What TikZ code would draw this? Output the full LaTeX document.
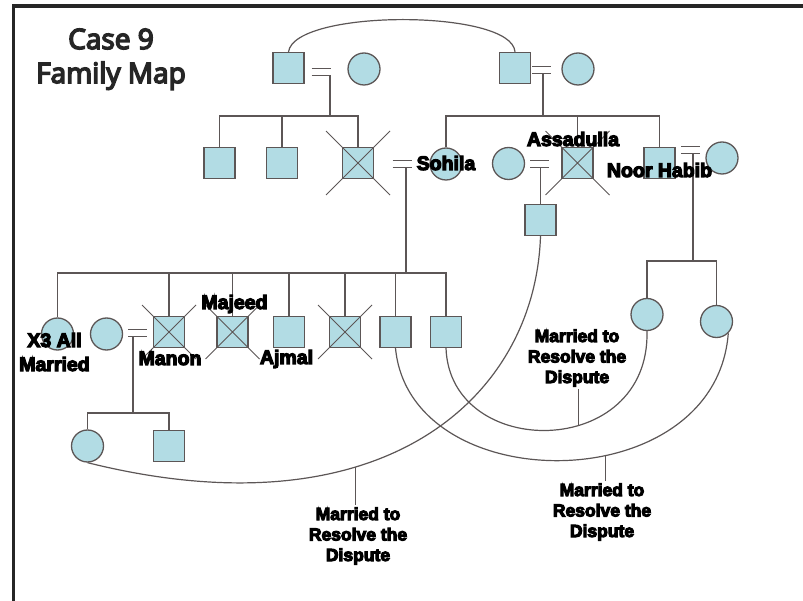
\documentclass[tikz,border=0pt]{standalone}
\usepackage{fontspec}
\setmainfont{Liberation Sans}
\newfontfamily\titlefont{Open Sans}[FakeBold=5.5]
\newfontfamily\lblfont{Liberation Sans Bold}[FakeBold=6]
\definecolor{pedfill}{RGB}{178,220,228}
\definecolor{pedline}{RGB}{92,86,86}
\tikzstyle{every node}=[font=\lblfont\fontsize{19.5}{22}\selectfont]
\tikzstyle{male}=[draw=pedline,fill=pedfill,line width=1.3pt,minimum size=31pt,inner sep=0pt]
\tikzstyle{female}=[male,circle,minimum size=32pt]
\tikzstyle{link}=[pedline,line width=1.2pt]
\tikzstyle{dead}=[pedline,line width=1pt]
\tikzstyle{note}=[align=center,font=\lblfont\fontsize{17.5}{20.5}\selectfont,inner sep=2pt]

\begin{document}
\begin{tikzpicture}[x=1pt,y=-1pt]
    \useasboundingbox (0,0) rectangle (803,601);
    \draw[line width=3.5pt,black!85] (13.5,601) -- (13.5,6) -- (803,6);
    \node[font=\titlefont\fontsize{28}{34}\selectfont,align=center,anchor=base,text=black!85] (title) at (111,83) {Case 9\\Family Map};

    \node[male] (gfL) at (288.5,68) {};
    \node[female] (gmL) at (364,69) {};
    \node[male] (gfR) at (515,68) {};
    \node[female] (gmR) at (578,69) {};
    \node[male] (uL1) at (219.5,163) {};
    \node[male] (uL2) at (282,163) {};
    \node[male] (uL3) at (358,163) {};
    \node[female] (soh) at (446,164) {};
    \node[female] (asw) at (508.5,163.5) {};
    \node[male] (asd) at (577.5,163) {};
    \node[male] (noor) at (659.5,163) {};
    \node[female] (nrw) at (722,158) {};
    \node[male] (asson) at (540.5,220) {};
    \node[female] (nd1) at (647,314.5) {};
    \node[female] (nd2) at (716.5,321.5) {};
    \node[female] (x3) at (57.5,334) {};
    \node[female] (mnw) at (106.5,334) {};
    \node[male] (manon) at (169,332) {};
    \node[male] (majeed) at (232.5,332) {};
    \node[male] (ajmal) at (289,332) {};
    \node[male] (s5) at (345,332) {};
    \node[male] (s6) at (395.5,332) {};
    \node[male] (s7) at (446,332) {};
    \node[female] (gd) at (87.5,446) {};
    \node[male] (gs) at (169,446) {};
    \foreach \n/\r in {uL3/32,asd/32,manon/27,majeed/27,s5/27}
        \draw[dead] (\n.center) +(-\r,-\r) -- +(\r,\r) +(-\r,\r) -- +(\r,-\r);

    \coordinate (wL) at (321,72);
    \coordinate (wR) at (541.5,70);
    \coordinate (wS) at (402,164);
    \coordinate (wA) at (539.5,164);
    \coordinate (wN) at (690.5,150);
    \coordinate (wM) at (137.5,333);
    \foreach \w in {wL,wR,wS,wA,wN,wM}
        \draw[link] (\w) +(-9.5,-3.5) -- +(9.5,-3.5) +(-9.5,3.5) -- +(9.5,3.5);

    \coordinate (bL) at (330,116);
    \draw[link] (bL) -- ++(0,-40);
    \draw[link] (uL1.north) |- (bL) -| (uL3.north);
    \draw[link] (uL2.north) -- (uL2.north |- bL);
    \coordinate (bR) at (543,116);
    \draw[link] (bR) -- ++(0,-43);
    \draw[link] (soh.north) |- (bR) -| (noor.north);
    \draw[link] (asd.north) -- (asd.north |- bR);
    \coordinate (bS) at (406,273);
    \draw[link] (bS) -- ++(0,-105);
    \draw[link] (x3.north) |- (bS) -| (s7.north);
    \foreach \n in {manon,majeed,ajmal,s5,s6}
        \draw[link] (\n.north) -- (\n.north |- bS);
    \draw[link] (asson.north) -- ++(0,-36);
    \coordinate (bN) at (693,261);
    \draw[link] (bN) -- ++(0,-108);
    \draw[link] (nd1.north) |- (bN) -| (nd2.north);
    \coordinate (bM) at (133,413);
    \draw[link] (bM) -- ++(0,-77);
    \draw[link] (gd.north) |- (bM) -| (gs.north);

    \draw[link] (gfL.north) .. controls +(6,-43) and +(-3,-43) .. (gfR.north);
    \draw[link] (asson.south) .. controls +(-5.5,164) and +(292.5,73) .. (gd.south) coordinate[pos=.63] (tC);
    \draw[link] (s6.south) .. controls +(14.5,152.5) and +(-12.8,167.2) .. (nd2.-45) coordinate[pos=.59] (tA);
    \draw[link] (s7.south) .. controls +(4,112.5) and +(3,129.5) .. (nd1.south) coordinate[pos=.6] (tB);

    \node[anchor=base] (lSoh) at (446,170) {Sohila};
    \node[anchor=base] (lAsd) at (573,146) {Assadulla};
    \node[anchor=base] (lNoor) at (659.5,177) {Noor Habib};
    \node[anchor=base] (lMaj) at (234.5,309) {Majeed};
    \node[anchor=base] (lMan) at (170,365) {Manon};
    \node[anchor=base] (lAjm) at (286.5,364) {Ajmal};
    \node[align=center,anchor=base] (lX3) at (54.5,371) {X3 All\\[2pt]Married};

    \node[note,anchor=base] (nB) at (577,383) {Married to\\Resolve the\\Dispute};
    \node[note,anchor=base] (nC) at (358,561) {Married to\\Resolve the\\Dispute};
    \node[note,anchor=base] (nA) at (602,537) {Married to\\Resolve the\\Dispute};
    \draw[link,line width=1pt] (tB) -- (tB |- nB.south);
    \draw[link,line width=1pt] (tC) -- (tC |- nC.north);
    \draw[link,line width=1pt] (tA) -- (tA |- nA.north);
\end{tikzpicture}
\end{document}
